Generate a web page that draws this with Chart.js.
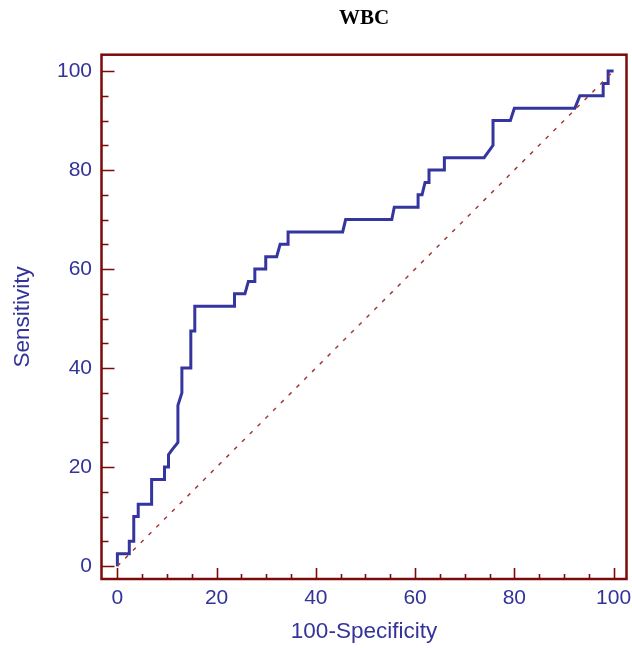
<!DOCTYPE html>
<html>
<head>
<meta charset="utf-8">
<script src="https://cdn.jsdelivr.net/npm/chart.js@4/dist/chart.umd.min.js"></script>
<style>
  html, body { margin: 0; padding: 0; background: #ffffff; }
  #wrap { width: 632px; height: 648px; }
</style>
</head>
<body>
<div id="wrap"><canvas id="c" width="632" height="648"></canvas></div>
<script>
const chartTitle = 'WBC';
const xAxisTitle = '100-Specificity';
const yAxisTitle = 'Sensitivity';
const majorTicks = [0, 20, 40, 60, 80, 100];
const minorTicks = [5, 10, 15, 25, 30, 35, 45, 50, 55, 65, 70, 75, 85, 90, 95];

// ROC curve vertices (100-Specificity, Sensitivity)
const rocX = [0, 0, 2.4, 2.4, 3.3, 3.3, 4.2, 4.2, 6.9, 6.9, 9.5, 9.5, 10.3, 10.3, 11, 12.2, 12.2, 13, 13, 14.8, 14.8, 15.6, 15.6, 23.6, 23.6, 25.7, 26.4, 27.7, 27.7, 29.9, 29.9, 32.1, 32.8, 34.4, 34.4, 45.4, 46, 55.3, 55.8, 60.6, 60.6, 61.4, 62, 62.8, 62.8, 65.9, 65.9, 73.9, 75.7, 75.7, 79.2, 80, 92.2, 93.2, 97.9, 97.9, 98.9, 98.9, 100];
const rocY = [0, 2.5, 2.5, 5, 5, 10, 10, 12.5, 12.5, 17.5, 17.5, 20, 20, 22.5, 23.5, 25, 32.5, 35, 40, 40, 47.5, 47.5, 52.5, 52.5, 55, 55, 57.5, 57.5, 60, 60, 62.5, 62.5, 65, 65, 67.5, 67.5, 70, 70, 72.5, 72.5, 75, 75, 77.5, 77.5, 80, 80, 82.5, 82.5, 85, 90, 90, 92.5, 92.5, 95, 95, 97.5, 97.5, 100, 100];
const diagX = [0, 100];
const diagY = [0, 100];

const blueText = '#333399';
const frameColor = '#7d0a0a';

const rocData = rocX.map((x, i) => ({ x: x, y: rocY[i] }));
const diagData = diagX.map((x, i) => ({ x: x, y: diagY[i] }));

const frameTicks = {
  id: 'frameTicks',
  afterDatasetsDraw(chart) {
    const ctx = chart.ctx;
    const a = chart.chartArea;
    const xs = chart.scales.x, ys = chart.scales.y;
    ctx.save();
    ctx.strokeStyle = frameColor;
    ctx.lineWidth = 1.6;
    ctx.beginPath();
    majorTicks.forEach(v => {
      const px = Math.round(xs.getPixelForValue(v)) + 0.5;
      ctx.moveTo(px, a.bottom); ctx.lineTo(px, a.bottom - 11);
      const py = Math.round(ys.getPixelForValue(v)) + 0.5;
      ctx.moveTo(a.left, py); ctx.lineTo(a.left + 13, py);
    });
    minorTicks.forEach(v => {
      const px = Math.round(xs.getPixelForValue(v)) + 0.5;
      ctx.moveTo(px, a.bottom); ctx.lineTo(px, a.bottom - 5);
      const py = Math.round(ys.getPixelForValue(v)) + 0.5;
      ctx.moveTo(a.left, py); ctx.lineTo(a.left + 7, py);
    });
    ctx.stroke();
    ctx.lineWidth = 2.5;
    ctx.strokeRect(a.left, a.top, a.right - a.left, a.bottom - a.top);
    // title centred over the plot frame
    ctx.fillStyle = '#000000';
    ctx.font = 'bold 21px "Liberation Serif", "Times New Roman", serif';
    ctx.textAlign = 'center';
    ctx.textBaseline = 'middle';
    ctx.fillText(chartTitle, (a.left + a.right) / 2, 19);
    ctx.restore();
  }
};

const sansFont = '"Liberation Sans", Arial, sans-serif';

new Chart(document.getElementById('c'), {
  type: 'scatter',
  data: {
    datasets: [
      {
        data: diagData,
        showLine: true,
        borderColor: '#a33a3a',
        borderWidth: 1.5,
        borderDash: [4, 7],
        pointRadius: 0,
        fill: false
      },
      {
        data: rocData,
        showLine: true,
        borderColor: '#3535a0',
        borderWidth: 3,
        pointRadius: 0,
        fill: false,
        tension: 0
      }
    ]
  },
  options: {
    responsive: false,
    animation: false,
    events: [],
    layout: { padding: { left: 0, right: 5.5, top: 54.7, bottom: 0 } },
    plugins: {
      legend: { display: false },
      tooltip: { enabled: false },
      title: { display: false }
    },
    scales: {
      x: {
        type: 'linear',
        min: -3.2,
        max: 102.6,
        afterBuildTicks: s => { s.ticks = majorTicks.map(v => ({ value: v })); },
        afterFit: s => { s.height = 69; s.paddingLeft = 0; s.paddingRight = 0; },
        grid: { display: false, drawTicks: false },
        border: { display: false },
        ticks: {
          color: blueText,
          padding: 7,
          maxRotation: 0,
          font: { family: sansFont, size: 21 }
        },
        title: {
          display: true,
          text: xAxisTitle,
          color: blueText,
          font: { family: sansFont, size: 22.5 },
          padding: { top: 0, bottom: 3 }
        }
      },
      y: {
        type: 'linear',
        min: -2.6,
        max: 103.3,
        afterBuildTicks: s => { s.ticks = majorTicks.map(v => ({ value: v })); },
        afterFit: s => { s.width = 101.5; s.paddingTop = 0; s.paddingBottom = 0; },
        grid: { display: false, drawTicks: false },
        border: { display: false },
        ticks: {
          color: blueText,
          padding: 9.5,
          font: { family: sansFont, size: 21 }
        },
        title: {
          display: true,
          text: yAxisTitle,
          color: blueText,
          font: { family: sansFont, size: 22.5 },
          padding: { top: 9, bottom: 0 }
        }
      }
    }
  },
  plugins: [frameTicks]
});
</script>
</body>
</html>
